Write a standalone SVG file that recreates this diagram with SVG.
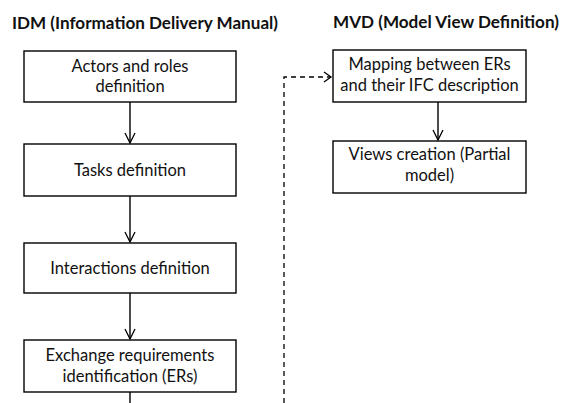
<svg xmlns="http://www.w3.org/2000/svg" width="566" height="403" viewBox="0 0 566 403">
<defs>
<style>
.box{fill:#fff;stroke:#000;stroke-width:1.4}
.t{font-family:Lato,"Liberation Sans",sans-serif;font-size:16.5px;fill:#111;text-anchor:middle}
.h{font-family:Lato,"Liberation Sans",sans-serif;font-size:17px;font-weight:bold;fill:#111}
.c{fill:none;stroke:#000;stroke-width:1.4}
.d{fill:none;stroke:#000;stroke-width:1.3;stroke-dasharray:5,4}
</style>
<marker id="ah" viewBox="0 0 12 12" refX="11" refY="6" markerWidth="12" markerHeight="12" markerUnits="userSpaceOnUse" orient="auto">
<path d="M1,1 L11,6 L1,11" fill="none" stroke="#000" stroke-width="1.3"/>
</marker>
</defs>
<rect width="566" height="403" fill="#fff"/>
<text class="h" x="12" y="29" textLength="266" lengthAdjust="spacingAndGlyphs">IDM (Information Delivery Manual)</text>
<text class="h" x="333" y="28" textLength="226" lengthAdjust="spacingAndGlyphs">MVD (Model View Definition)</text>
<g id="connectors">
<line class="c" x1="130" y1="102" x2="130" y2="143" marker-end="url(#ah)"/>
<line class="c" x1="130" y1="196" x2="130" y2="242" marker-end="url(#ah)"/>
<line class="c" x1="130" y1="293" x2="130" y2="339" marker-end="url(#ah)"/>
<line class="c" x1="130" y1="392" x2="130" y2="403"/>
<line class="c" x1="438" y1="102" x2="438" y2="140" marker-end="url(#ah)"/>
<path class="d" d="M284,403 L284,77 L331,77"/>
<path d="M324,72 L331,77 L324,82" fill="none" stroke="#000" stroke-width="1.3"/>
</g>
<g id="n1">
<rect class="box" x="24" y="51" width="212" height="51"/>
<text class="t" x="130" y="72">Actors and roles</text>
<text class="t" x="130" y="92">definition</text>
</g>
<g id="n2">
<rect class="box" x="24" y="144" width="212" height="52"/>
<text class="t" x="130" y="176">Tasks definition</text>
</g>
<g id="n3">
<rect class="box" x="24" y="243" width="212" height="50"/>
<text class="t" x="130" y="274">Interactions definition</text>
</g>
<g id="n4">
<rect class="box" x="24" y="340" width="212" height="52"/>
<text class="t" x="130" y="361">Exchange requirements</text>
<text class="t" x="130" y="382">identification (ERs)</text>
</g>
<g id="m1">
<rect class="box" x="333" y="50" width="193" height="52"/>
<text class="t" x="429.5" y="70">Mapping between  ERs</text>
<text class="t" x="429.5" y="91">and their IFC description</text>
</g>
<g id="m2">
<rect class="box" x="333" y="141" width="193" height="52"/>
<text class="t" x="429.5" y="160">Views creation (Partial</text>
<text class="t" x="429.5" y="181">model)</text>
</g>
</svg>
